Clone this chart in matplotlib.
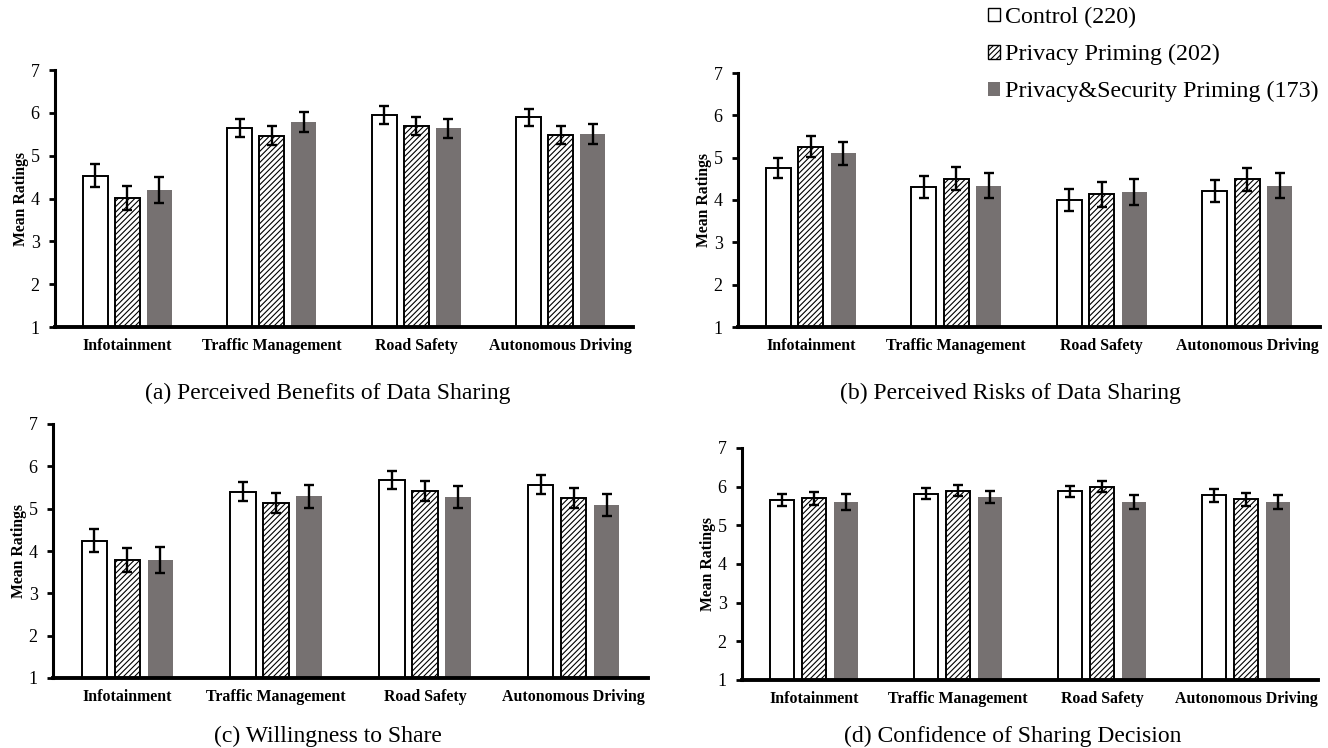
import matplotlib
matplotlib.use("Agg")
import matplotlib.pyplot as plt
from matplotlib.patches import Patch
import numpy as np

plt.rcParams['font.family'] = ['Liberation Serif', 'DejaVu Serif']
plt.rcParams['hatch.linewidth'] = 0.8

# ---------------------------
# datos
categorias = ["Infotainment", "Traffic Management", "Road Safety", "Autonomous Driving"]
grupos = ["Control (220)", "Privacy Priming (202)", "Privacy&Security Priming (173)"]
titulos = ["(a) Perceived Benefits of Data Sharing",
           "(b) Perceived Risks of Data Sharing",
           "(c) Willingness to Share",
           "(d) Confidence of Sharing Decision"]

# medias por grupo (control, privacy, privacy&security)
beneficios = [[4.53, 5.65, 5.95, 5.90],
              [4.02, 5.47, 5.69, 5.48],
              [4.20, 5.78, 5.64, 5.51]]
beneficios_err = [[0.27, 0.21, 0.20, 0.20],
                  [0.28, 0.22, 0.21, 0.21],
                  [0.31, 0.23, 0.22, 0.23]]

riesgos = [[4.76, 4.30, 4.00, 4.22],
           [5.26, 4.50, 4.13, 4.49],
           [5.10, 4.34, 4.19, 4.34]]
riesgos_err = [[0.24, 0.26, 0.27, 0.26],
               [0.25, 0.27, 0.29, 0.27],
               [0.27, 0.29, 0.31, 0.30]]

voluntad = [[4.24, 5.40, 5.68, 5.57],
            [3.79, 5.14, 5.42, 5.25],
            [3.79, 5.29, 5.28, 5.08]]
voluntad_err = [[0.27, 0.23, 0.22, 0.23],
                [0.28, 0.24, 0.23, 0.23],
                [0.31, 0.27, 0.26, 0.26]]

confianza = [[5.65, 5.82, 5.88, 5.78],
             [5.70, 5.90, 6.00, 5.67],
             [5.60, 5.73, 5.60, 5.60]]
confianza_err = [[0.16, 0.15, 0.15, 0.17],
                 [0.17, 0.15, 0.15, 0.17],
                 [0.20, 0.16, 0.18, 0.19]]

gris = "#767171"

# posiciones en pixeles: izq, der, arriba, abajo del eje, centro x / y del titulo
W, H = 1328, 748
cajas = [(55, 633, 70, 327, 328, 393),
         (738, 1320, 73, 327, 1010, 393),
         (53, 648, 424, 678, 328, 736),
         (742, 1318, 448, 680, 1013, 736)]

fig = plt.figure(figsize=(W / 100, H / 100), dpi=100)

def dibujar_panel(caja, medias, errores, titulo):
    x0, x1, yt, yb, cx, cy = caja
    ax = fig.add_axes([x0 / W, 1 - yb / H, (x1 - x0) / W, (yb - yt) / H])
    x = np.arange(len(categorias))
    ancho = 0.172
    sep = 0.222
    estilos = [dict(color="white", edgecolor="black", linewidth=1.4),
               dict(color="white", edgecolor="black", linewidth=1.4, hatch="//////"),
               dict(color=gris, edgecolor="none")]
    for i in range(3):
        ax.bar(x + (i - 1) * sep, np.array(medias[i]) - 1, ancho, bottom=1,
               yerr=errores[i], capsize=3.8,
               error_kw=dict(elinewidth=1.7, capthick=1.7, ecolor="black"),
               **estilos[i])
    ax.set_ylim(1, 7)
    ax.set_xlim(-0.5, 3.5)
    ax.set_yticks(range(1, 8))
    ax.set_xticks(x)
    ax.set_xticklabels(categorias, fontweight="bold", fontsize=11.4)
    ax.tick_params(axis="x", length=0, pad=8)
    ax.tick_params(axis="y", length=4, width=2, labelsize=13, pad=7)
    ax.spines["top"].set_visible(False)
    ax.spines["right"].set_visible(False)
    ax.spines["left"].set_linewidth(2.2)
    ax.spines["bottom"].set_linewidth(2.8)
    fig.text((x0 - 34) / W, 1 - (yt + yb) / 2 / H, "Mean Ratings", rotation=90,
             ha="center", va="center", fontweight="bold", fontsize=11.3)
    fig.text(cx / W, 1 - cy / H, titulo, ha="center", va="center", fontsize=17)
    return ax

dibujar_panel(cajas[0], beneficios, beneficios_err, titulos[0])
dibujar_panel(cajas[1], riesgos, riesgos_err, titulos[1])
dibujar_panel(cajas[2], voluntad, voluntad_err, titulos[2])
dibujar_panel(cajas[3], confianza, confianza_err, titulos[3])

manejadores = [Patch(facecolor="white", edgecolor="black", linewidth=1),
               Patch(facecolor="white", edgecolor="black", linewidth=1, hatch="//////"),
               Patch(facecolor=gris, edgecolor="none")]
fig.legend(manejadores, grupos, loc="upper left", bbox_to_anchor=(988 / W, 1 - 7 / H),
           frameon=False, fontsize=17.3, handlelength=0.5, handleheight=0.5,
           handletextpad=0.2, labelspacing=0.66, borderpad=0, borderaxespad=0)

fig.savefig("out.png", dpi=100)
